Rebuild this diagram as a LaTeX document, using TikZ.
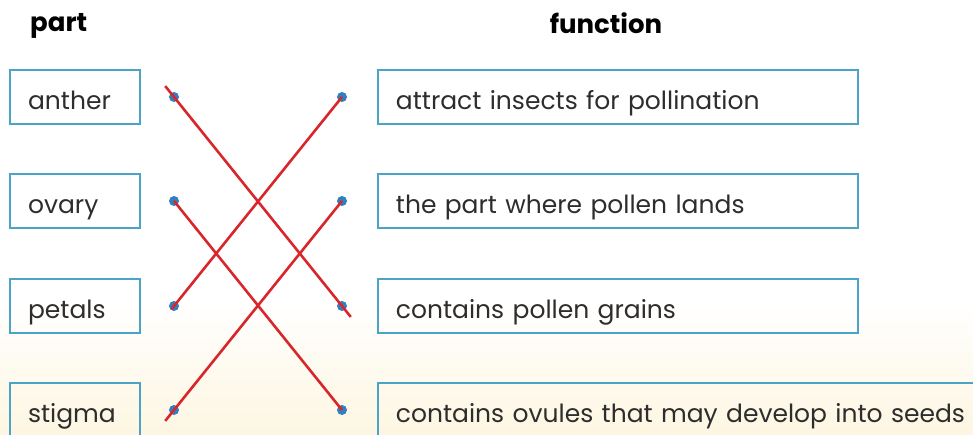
\documentclass[tikz,border=0pt]{standalone}
\usepackage{fontspec}
\setmainfont{Poppins}
\usetikzlibrary{positioning,calc}
\definecolor{BoxBlue}{RGB}{75,163,199}
\definecolor{DotBlue}{RGB}{47,127,193}
\definecolor{LineRed}{RGB}{217,38,43}
\definecolor{TextGrey}{RGB}{45,45,45}
\definecolor{Cream}{RGB}{253,246,226}

\begin{document}
\begin{tikzpicture}[
    x=1pt, y=-1pt,
    % ── Node styles ──
    partbox/.style = {rectangle, draw=BoxBlue, line width=1.8pt,
                      minimum width=130pt, minimum height=54pt,
                      text width=94pt, align=left, inner xsep=18pt,
                      inner ysep=2pt, text height=24pt, text depth=0pt,
                      font=\fontsize{25}{30}\selectfont, text=TextGrey},
    funcbox/.style = {partbox, minimum width=480pt, text width=444pt},
    head/.style    = {font=\fontsize{26}{30}\selectfont\bfseries, text=black},
    dot/.style     = {circle, fill=DotBlue, inner sep=0pt, minimum size=10pt},
    match/.style   = {LineRed, line width=2.6pt},
]
\useasboundingbox (0,0) rectangle (973,434);
% soft cream wash at the bottom
\fill[top color=white, bottom color=Cream] (0,300) rectangle (973,434);

% =====================================================================
%  HEADINGS
% =====================================================================
\node[head, anchor=base west, inner sep=0pt] (hpart) at (30,31) {part};
\node[head, anchor=base, inner sep=0pt] (hfunc) at (606,33) {function};

% =====================================================================
%  PART COLUMN
% =====================================================================
\node[partbox] (anther) at (75,97)  {anther};
\node[partbox] (ovary)  at (75,201) {ovary};
\node[partbox] (petals) at (75,306) {petals};
\node[partbox] (stigma) at (75,410) {stigma};

% =====================================================================
%  FUNCTION COLUMN
% =====================================================================
\node[funcbox, anchor=west] (attract) at (377,97)  {attract insects for pollination};
\node[funcbox, anchor=west] (lands)   at (377,201) {the part where pollen lands};
\node[funcbox, anchor=west] (grains)  at (377,306) {contains pollen grains};
\node[funcbox, anchor=west, minimum width=620pt, text width=584pt]
      (ovules) at (377,410) {contains ovules that may develop into seeds};

% ── dots
\foreach \p/\y in {anther/97, ovary/201, petals/306, stigma/410}
    \node[dot] (\p-dot) at (174,\y) {};
\foreach \f/\y in {attract/97, lands/201, grains/306, ovules/410}
    \node[dot] (\f-dot) at (342,\y) {};

% =====================================================================
%  MATCHING LINES
% =====================================================================
\draw[match, shorten <=-14pt, shorten >=-14pt] (anther-dot.center) -- (grains-dot.center);
\draw[match] (ovary-dot.center) -- (ovules-dot.center);
\draw[match, shorten >=-4pt] (attract-dot.center) -- (petals-dot.center);
\draw[match, shorten >=-14pt] (lands-dot.center) -- (stigma-dot.center);

\end{tikzpicture}
\end{document}
